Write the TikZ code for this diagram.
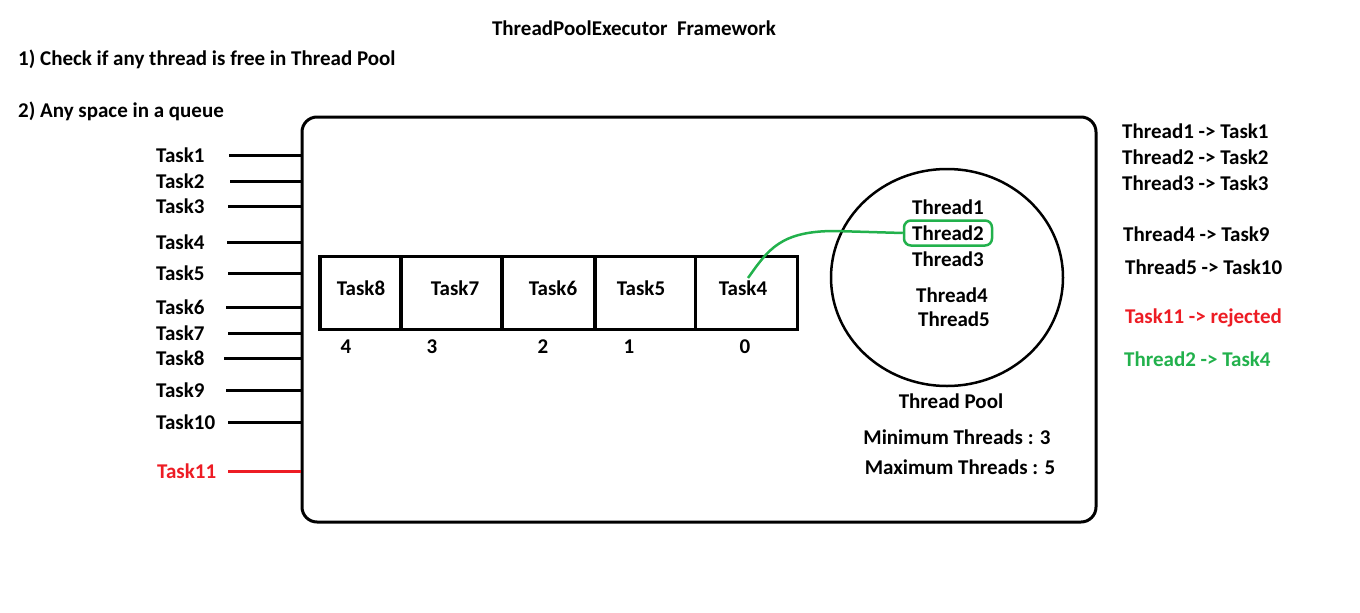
\documentclass[tikz,border=0pt]{standalone}
\usepackage{fontspec}
\usetikzlibrary{shapes.geometric}
\setmainfont{Carlito}
\begin{document}
\begin{tikzpicture}[x=1pt,y=-1pt,
  txt/.style={font=\fontsize{21}{24}\selectfont\bfseries, inner sep=0pt},
  lbl/.style={txt, anchor=west},
  feed/.style={line width=3pt},
  cell/.style={draw, line width=3.5pt, minimum height=73pt, inner sep=0pt},
  ]
\definecolor{pred}{RGB}{237,28,36}
\definecolor{pgreen}{RGB}{34,177,76}
\useasboundingbox (0,0) rectangle (1360,613);

% headings
\node[txt] (title) at (634,28) {ThreadPoolExecutor\ \ Framework};
\node[lbl] (rule1) at (18,59) {1) Check if any thread is free in Thread Pool};
\node[lbl] (rule2) at (18,111) {2) Any space in a queue};

% executor frame
\node[draw, line width=3pt, rounded corners=15pt, minimum width=794pt, minimum height=405pt, inner sep=0pt]
  (frame) at (699,319.5) {};

% incoming tasks
\foreach \n/\y/\s in {1/155/229,2/181/230,3/206/228,4/242/227,5/273/228,6/307/226,7/333/228,8/358/224,9/390/226,10/422/228}{
  \node[lbl] (task\n) at (156,\y) {Task\n};
  \coordinate (src\n) at (\s,\y);
  \draw[feed] (src\n) -- (src\n -| frame.west);
}
\node[lbl, text=pred] (task11) at (157,471) {Task11};
\coordinate (src11) at (228,471);
\draw[feed, pred] (src11) -- (src11 -| frame.west);

% work queue
\node[cell, minimum width=81pt]  (q4) at (360.5,293) {};
\node[cell, minimum width=101pt] (q3) at (451.5,293) {};
\node[cell, minimum width=93pt]  (q2) at (548.5,293) {};
\node[cell, minimum width=100pt] (q1) at (645.5,293) {};
\node[cell, minimum width=102pt] (q0) at (746.5,293) {};
\node[txt] (qt4) at (361,288) {Task8};
\node[txt] (qt3) at (455,288) {Task7};
\node[txt] (qt2) at (553,288) {Task6};
\node[txt] (qt1) at (641,288) {Task5};
\node[txt] (qt0) at (743,288) {Task4};
\node[txt] (i4) at (346,347) {4};
\node[txt] (i3) at (432,347) {3};
\node[txt] (i2) at (543,347) {2};
\node[txt] (i1) at (629,347) {1};
\node[txt] (i0) at (745,347) {0};

% thread pool
\node[draw, ellipse, line width=2.5pt, minimum width=232pt, minimum height=217pt, inner sep=0pt] (pool) at (947,277.5) {};
\node[txt] (th1) at (948,207) {Thread1};
\node[txt, draw=pgreen, line width=2.5pt, rounded corners=7pt, minimum width=88pt, minimum height=25pt] (th2) at (948,233) {Thread2};
\node[txt] (th3) at (948,259) {Thread3};
\node[txt] (th4) at (952,295) {Thread4};
\node[txt] (th5) at (954,319) {Thread5};
\node[txt] (poolname) at (951,401) {Thread Pool};
\node[txt] (minth) at (957,437) {Minimum Threads : 3};
\node[txt] (maxth) at (960,467) {Maximum Threads : 5};

% head of the queue handed to the freed thread
\coordinate (pick) at (748,278);
\draw[pgreen, line width=2.5pt] (pick) .. controls (768,250) and (780,231) .. (835,231) -- (th2.west);

% assignments
\node[lbl] (a1) at (1122,131) {Thread1 -> Task1};
\node[lbl] (a2) at (1122,157) {Thread2 -> Task2};
\node[lbl] (a3) at (1122,183) {Thread3 -> Task3};
\node[lbl] (a4) at (1123,234) {Thread4 -> Task9};
\node[lbl] (a5) at (1125,267) {Thread5 -> Task10};
\node[lbl, text=pred] (a6) at (1125,318) {Task11 -> rejected};
\node[lbl, text=pgreen] (a7) at (1124,359) {Thread2 -> Task4};
\end{tikzpicture}
\end{document}
